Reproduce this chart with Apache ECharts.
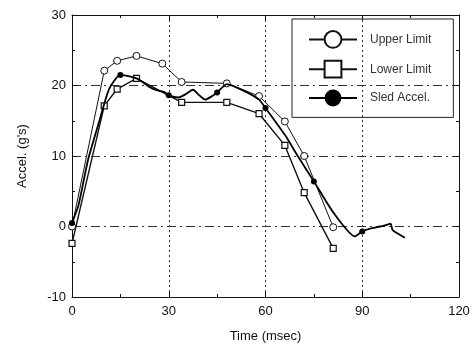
<!DOCTYPE html>
<html><head><meta charset="utf-8">
<script src="https://cdn.jsdelivr.net/npm/echarts@6/dist/echarts.min.js"></script>
<style>html,body{margin:0;padding:0;background:#fff}#c{width:476px;height:352px}</style>
</head><body><div id="c"></div>
<script>
const xTicks = [0, 30, 60, 90, 120];
const yTicks = [-10, 0, 10, 20, 30];
const seriesNames = ['Upper Limit', 'Lower Limit', 'Sled Accel.'];

const upperT = [0, 10, 14, 20, 28, 34, 48, 58, 66, 72, 81];
const upperA = [0, 22.1, 23.5, 24.2, 23.1, 20.5, 20.3, 18.5, 14.9, 10.0, -0.1];

const lowerT = [0, 10, 14, 20, 34, 48, 58, 66, 72, 81];
const lowerA = [-2.4, 17.1, 19.5, 21.0, 17.6, 17.6, 16.0, 11.5, 4.8, -3.1];

const sledT = [0, 2, 5, 8.5, 11.5, 15, 20, 24, 26.5, 28.5, 30, 33, 35, 37.5, 39.5, 41.3, 43.5, 45, 48, 53, 58, 60, 66, 70, 75, 81, 87.7, 90, 92.4, 95.5, 98, 98.8, 99.4, 101, 103.2];
const sledA = [0.5, 3, 9.5, 15, 19.5, 21.5, 21, 19.8, 19.3, 19.1, 18.6, 18.3, 18.7, 19.4, 18.6, 18, 18.5, 19, 20.2, 19.3, 18, 16.8, 13, 10, 6.4, 2, -1.4, -0.7, -0.3, 0, 0.3, 0.4, -0.5, -1, -1.6];
const sledMarkedT = [0, 15, 30, 45, 60, 75, 90];

const pairs = (t, a) => t.map((x, i) => [x, a[i]]);
const sledData = sledT.map((x, i) => sledMarkedT.includes(x)
  ? { value: [x, sledA[i]] }
  : { value: [x, sledA[i]], symbol: 'none' });

const FONT = 'Liberation Sans, Arial, sans-serif';
const chart = echarts.init(document.getElementById('c'), null, { renderer: 'canvas' });

const baseX = {
  type: 'value', min: xTicks[0], max: xTicks[xTicks.length - 1], interval: 30,
  axisLine: { show: true, onZero: false, lineStyle: { color: '#111', width: 1 } },
  axisTick: { show: true, inside: true, length: 5, lineStyle: { color: '#111' } },
  minorTick: { show: true, splitNumber: 2, length: 3, lineStyle: { color: '#111' } },
};
const baseY = {
  type: 'value', min: yTicks[0], max: yTicks[yTicks.length - 1], interval: 10,
  axisLine: { show: true, onZero: false, lineStyle: { color: '#111', width: 1 } },
  axisTick: { show: true, inside: true, length: 5, lineStyle: { color: '#111' } },
  minorTick: { show: true, splitNumber: 2, length: 3, lineStyle: { color: '#111' } },
};

chart.setOption({
  animation: false,
  backgroundColor: '#fff',
  textStyle: { fontFamily: FONT },
  grid: { left: 72, right: 17, top: 15, bottom: 55 },
  legend: {
    orient: 'vertical', left: 292, top: 19,
    padding: [11, 22, 11, 16], itemGap: 11,
    itemWidth: 48, itemHeight: 21,
    borderColor: '#222', borderWidth: 1,
    textStyle: { fontFamily: FONT, fontSize: 12, color: '#333', padding: [0, 0, 0, 8] },
    data: seriesNames
  },
  xAxis: [
    Object.assign({}, baseX, {
      position: 'bottom',
      name: 'Time (msec)', nameLocation: 'middle', nameGap: 33,
      nameTextStyle: { fontFamily: FONT, fontSize: 13, color: '#111' },
      axisLabel: { fontFamily: FONT, fontSize: 13, color: '#111', margin: 8 },
      splitLine: { show: true, lineStyle: { color: '#333', type: [2, 3], width: 1 } }
    }),
    Object.assign({}, baseX, {
      position: 'top', axisLabel: { show: false }, splitLine: { show: false }
    })
  ],
  yAxis: [
    Object.assign({}, baseY, {
      position: 'left',
      name: "Accel. (g's)", nameLocation: 'middle', nameGap: 43, nameRotate: 90,
      nameTextStyle: { fontFamily: FONT, fontSize: 13, color: '#111' },
      axisLabel: { fontFamily: FONT, fontSize: 13, color: '#111', margin: 6 },
      splitLine: { show: true, lineStyle: { color: '#333', type: [9, 4, 2, 4], width: 1 } }
    }),
    Object.assign({}, baseY, {
      position: 'right', axisLabel: { show: false }, splitLine: { show: false }
    })
  ],
  series: [
    {
      name: seriesNames[0], type: 'line', data: pairs(upperT, upperA),
      symbol: 'circle', symbolSize: 7,
      lineStyle: { color: '#111', width: 1 },
      itemStyle: { color: '#fff', borderColor: '#111', borderWidth: 1 },
      z: 3
    },
    {
      name: seriesNames[1], type: 'line', data: pairs(lowerT, lowerA),
      symbol: 'rect', symbolSize: 6,
      lineStyle: { color: '#111', width: 1.4 },
      itemStyle: { color: '#fff', borderColor: '#111', borderWidth: 1.2 },
      z: 3
    },
    {
      name: seriesNames[2], type: 'line', data: sledData,
      symbol: 'circle', symbolSize: 6, smooth: 0.2,
      lineStyle: { color: '#000', width: 1.8 },
      itemStyle: { color: '#000' },
      z: 4
    }
  ]
});
</script></body></html>
